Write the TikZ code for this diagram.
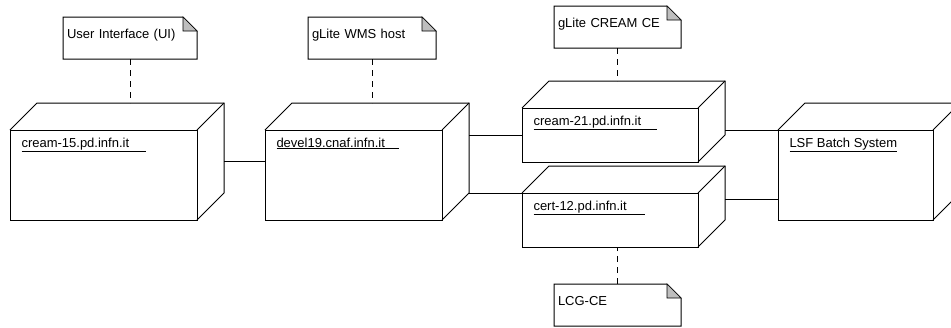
\documentclass[tikz,border=0pt]{standalone}
\usepackage{fontspec}
\setmainfont{Liberation Sans}
\usetikzlibrary{calc, positioning}

\definecolor{foldgray}{RGB}{190,190,190}

\begin{document}
\begin{tikzpicture}[x=1pt, y=-1pt, line width=1pt,
    font=\fontsize{13}{15}\selectfont,
    box/.style={draw, anchor=north west, inner sep=0pt, outer sep=0pt},
    lbl/.style={anchor=base west, inner sep=0pt},
    note/.style={anchor=north west, inner sep=4pt, outer sep=0pt, text height=17pt, text depth=17pt, align=left},
    dep/.style={dash pattern=on 6pt off 5pt}]
  \clip (0,0) rectangle (951,327);

  % nodes
  \node [box, minimum width=187pt, minimum height=90pt] (ui) at (10,130) {};
  \node [box, minimum width=177pt, minimum height=90pt] (wms) at (265,130) {};
  \node [box, minimum width=176pt, minimum height=54pt] (cream) at (522,108) {};
  \node [box, minimum width=176pt, minimum height=54pt] (cert) at (522,193) {};
  \node [box, minimum width=155pt, minimum height=90pt] (lsf) at (778,130) {};

  \foreach \b in {ui,wms,cream,cert,lsf}{
    \coordinate (\b-tl) at ([shift={(27pt,27pt)}]\b.north west);
    \coordinate (\b-tr) at ([shift={(27pt,27pt)}]\b.north east);
    \coordinate (\b-br) at ([shift={(27pt,27pt)}]\b.south east);
    \draw (\b.north west) -- (\b-tl) -- (\b-tr) -- (\b-br) -- (\b.south east);
    \draw (\b.north east) -- (\b-tr);
  }

  \node [lbl] (ui-name) at ([shift={(11pt,-17pt)}]ui.north west) {\underline{cream-15.pd.infn.it\hspace{17pt}}};
  \node [lbl] (wms-name) at ([shift={(11pt,-17pt)}]wms.north west) {\underline{devel19.cnaf.infn.it\hspace{14pt}}};
  \node [lbl] (cream-name) at ([shift={(11pt,-17pt)}]cream.north west) {\underline{cream-21.pd.infn.it\hspace{16pt}}};
  \node [lbl] (cert-name) at ([shift={(11pt,-17pt)}]cert.north west) {\underline{cert-12.pd.infn.it\hspace{18pt}}};
  \node [lbl] (lsf-name) at ([shift={(11pt,-17pt)}]lsf.north west) {\underline{LSF Batch System}};

  % notes
  \node [note, text width=126pt] (nui) at (63,17) {User Interface (UI)};
  \node [note, text width=120pt] (nwms) at (308,17) {gLite WMS host};
  \node [note, text width=119pt] (ncream) at (554,6) {gLite CREAM CE};
  \node [note, text width=119pt] (nlcg) at (554,284) {LCG-CE};

  \foreach \n in {nui,nwms,ncream,nlcg}{
    \draw (\n.north west) -- ([xshift=-14pt]\n.north east) -- ([yshift=-14pt]\n.north east)
      -- (\n.south east) -- (\n.south west) -- cycle;
    \filldraw [fill=foldgray, line width=0.6pt] ([xshift=-14pt]\n.north east)
      -- ([shift={(-14pt,-14pt)}]\n.north east) -- ([yshift=-14pt]\n.north east) -- cycle;
  }

  \draw [dep] (nui.south) -- (nui.south |- ui-tl);
  \draw [dep] (nwms.south) -- (nwms.south |- wms-tl);
  \draw [dep] (ncream.south) -- (ncream.south |- cream-tl);
  \draw [dep] (nlcg.north) -- (nlcg.north |- cert.south);

  % links
  \coordinate (c-ui) at ([yshift=-58pt]ui-tr);
  \coordinate (c-lsf) at ([yshift=-69pt]lsf.north west);
  \draw (c-ui) -- (c-ui -| wms.west);
  \draw (wms-tr |- cream.west) -- (cream.west);
  \draw (wms-br) -- (wms-br -| cert.west);
  \draw (cream-tr |- lsf.north west) -- (lsf.north west);
  \draw (cert-tr |- c-lsf) -- (c-lsf);
\end{tikzpicture}
\end{document}
